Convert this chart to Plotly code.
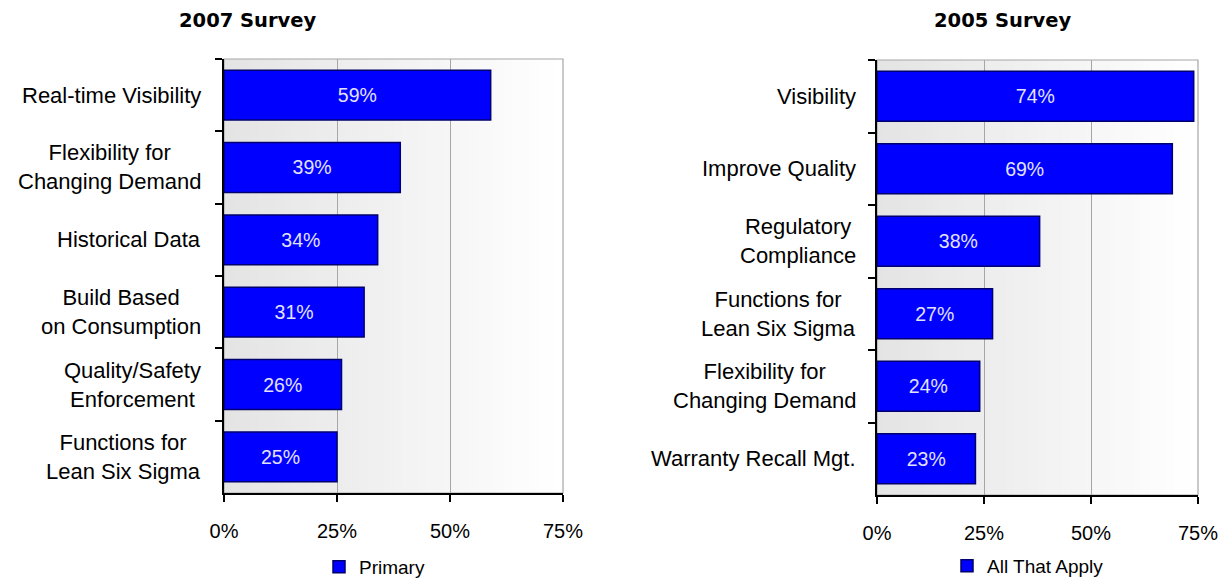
import plotly.graph_objects as go

# ---------------- data ----------------
categories_2007 = ["Real-time Visibility", "Flexibility for<br>Changing Demand", "Historical Data",
                   "Build Based<br>on Consumption", "Quality/Safety<br>Enforcement",
                   "Functions for<br>Lean Six Sigma"]
values_2007 = [59, 39, 34, 31, 26, 25]

categories_2005 = ["Visibility", "Improve Quality", "Regulatory<br>Compliance",
                   "Functions for<br>Lean Six Sigma", "Flexibility for<br>Changing Demand",
                   "Warranty Recall Mgt."]
values_2005 = [74, 69, 38, 27, 24, 23]

x_ticks = [0, 25, 50, 75]
x_tick_labels = ["0%", "25%", "50%", "75%"]
series_2007 = "Primary"
series_2005 = "All That Apply"
title_2007 = "2007 Survey"
title_2005 = "2005 Survey"

# ---------------- styling ----------------
W, H = 1231, 579
FONT = "Liberation Sans, Arial, sans-serif"
BAR = "#0000ff"
BAR_EDGE = "#00006e"
GRID = "#a6a6a6"


def px_x(p):
    return p / W


def px_y(p):
    return 1 - p / H


left_dom_x = [px_x(224), px_x(563)]
left_dom_y = [px_y(493), px_y(59)]
right_dom_x = [px_x(877), px_x(1198)]
right_dom_y = [px_y(495), px_y(60)]

fig = go.Figure()

fig.add_trace(go.Bar(
    y=categories_2007, x=values_2007, orientation="h", name=series_2007,
    xaxis="x", yaxis="y", legend="legend",
    marker=dict(color=BAR, line=dict(color=BAR_EDGE, width=1.5)),
    text=[f"{v}%" for v in values_2007], texttemplate="%{text}",
    textposition="inside", insidetextanchor="middle",
    textfont=dict(family=FONT, size=19.5, color="#e2e2ff"),
    hoverinfo="skip",
))
fig.add_trace(go.Bar(
    y=categories_2005, x=values_2005, orientation="h", name=series_2005,
    xaxis="x2", yaxis="y2", legend="legend2",
    marker=dict(color=BAR, line=dict(color=BAR_EDGE, width=1.5)),
    text=[f"{v}%" for v in values_2005], texttemplate="%{text}",
    textposition="inside", insidetextanchor="middle",
    textfont=dict(family=FONT, size=19.5, color="#e2e2ff"),
    hoverinfo="skip",
))

xaxis_common = dict(
    range=[0, 75], tickvals=x_ticks, ticktext=x_tick_labels, showgrid=True, gridcolor=GRID, gridwidth=1,
    zeroline=False, showline=True, linecolor="black", linewidth=1.5,
    ticks="outside", ticklen=7, tickcolor="black", tickwidth=1.5,
    tickfont=dict(family=FONT, size=20, color="black"), ticklabelstandoff=12,
    fixedrange=True, automargin=False,
)
yaxis_common = dict(
    type="category", autorange="reversed", showticklabels=False, showgrid=False,
    showline=True, linecolor="black", linewidth=1.5, zeroline=False,
    ticks="outside", tickson="boundaries", ticklen=7, tickcolor="black", tickwidth=1.5,
    fixedrange=True, automargin=False,
)

shapes = []
annotations = []

# gradient background + frame for each plot
N = 40
for xr, yr in (("x domain", "y domain"), ("x2 domain", "y2 domain")):
    for i in range(N):
        t = i / (N - 1)
        c = int(round(228 + (255 - 228) * t))
        shapes.append(dict(type="rect", xref=xr, yref=yr, x0=i / N, x1=(i + 1) / N + 0.002,
                           y0=0, y1=1, fillcolor=f"rgb({c},{c},{c})", line=dict(width=0),
                           layer="below"))
    shapes.append(dict(type="rect", xref=xr, yref=yr, x0=0, x1=1, y0=0, y1=1,
                       line=dict(color=GRID, width=1.2), fillcolor="rgba(0,0,0,0)", layer="below"))

# category labels (centered multi-line)
for cat in categories_2007:
    annotations.append(dict(text=cat, x=px_x(203), xref="paper", y=cat, yref="y",
                            xanchor="right", yanchor="middle", align="center", showarrow=False,
                            font=dict(family=FONT, size=22, color="black")))
for cat in categories_2005:
    annotations.append(dict(text=cat, x=px_x(858), xref="paper", y=cat, yref="y2",
                            xanchor="right", yanchor="middle", align="center", showarrow=False,
                            font=dict(family=FONT, size=22, color="black")))

# titles
annotations.append(dict(text=f"<b>{title_2007}</b>", x=px_x(248), y=px_y(20), xref="paper", yref="paper",
                        xanchor="center", yanchor="middle", showarrow=False,
                        font=dict(family="Verdana, DejaVu Sans, sans-serif", size=19.5, color="black")))
annotations.append(dict(text=f"<b>{title_2005}</b>", x=px_x(1003), y=px_y(20), xref="paper", yref="paper",
                        xanchor="center", yanchor="middle", showarrow=False,
                        font=dict(family="Verdana, DejaVu Sans, sans-serif", size=19.5, color="black")))

legend_common = dict(orientation="h", yanchor="middle", xanchor="left", bgcolor="rgba(0,0,0,0)",
                     font=dict(family=FONT, size=19, color="black"), borderwidth=0)

fig.update_layout(
    width=W, height=H, margin=dict(l=0, r=0, t=0, b=0, autoexpand=False),
    paper_bgcolor="white", plot_bgcolor="rgba(0,0,0,0)",
    bargap=0.31, showlegend=True,
    xaxis=dict(domain=left_dom_x, anchor="y", **xaxis_common),
    yaxis=dict(domain=left_dom_y, anchor="x", **yaxis_common),
    xaxis2=dict(domain=right_dom_x, anchor="y2", **xaxis_common),
    yaxis2=dict(domain=right_dom_y, anchor="x2", **yaxis_common),
    legend=dict(x=px_x(319), y=px_y(567), **legend_common),
    legend2=dict(x=px_x(947), y=px_y(566), **legend_common),
    shapes=shapes, annotations=annotations,
)

fig.write_html("out.html", config={"displayModeBar": False},
               post_script="document.body.style.margin='0px';")
